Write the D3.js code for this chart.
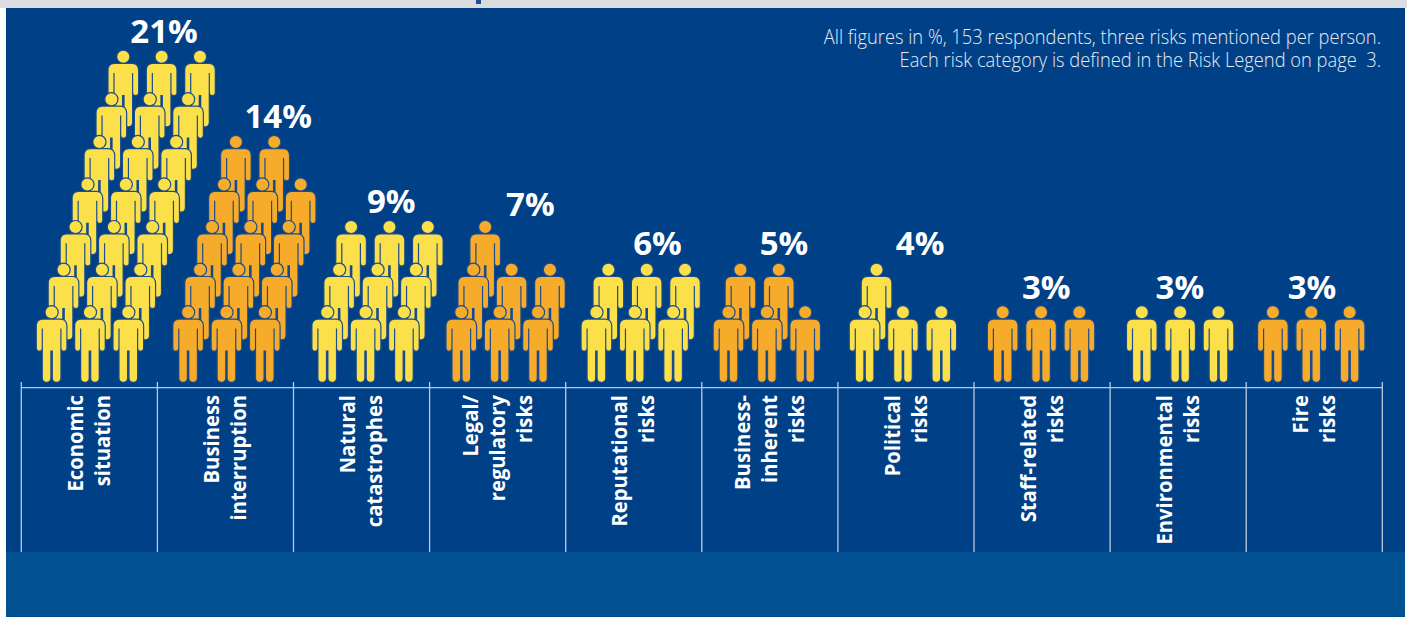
<!DOCTYPE html>
<html><head><meta charset="utf-8">
<script src="https://cdnjs.cloudflare.com/ajax/libs/d3/7.8.5/d3.min.js"></script>
<style>html,body{margin:0;padding:0;background:#fff;overflow:hidden}svg{display:block}
text{font-family:"Open Sans",sans-serif;white-space:pre}</style></head><body><svg id="c" width="1407" height="617"></svg>
<script>
// --- data ---
const categories = [
  ["Economic","situation"],["Business","interruption"],["Natural","catastrophes"],
  ["Legal/","regulatory","risks"],["Reputational","risks"],["Business-","inherent","risks"],
  ["Political","risks"],["Staff-related","risks"],["Environmental","risks"],["Fire","risks"]];
const values = [21,14,9,7,6,5,4,3,3,3];
const noteLines = ["All figures in %, 153 respondents, three risks mentioned per person.",
                   "Each risk category is defined in the Risk Legend on page  3."];
// --- layout ---
const W=1407,H=617;
const firstInset=[30.6,31,34,32,31,27,27,29,32,27];
const labelDx=[75,53,30,33,24,14.5,14.5,4.5,2,-2];
const labelDy=[0,0,0,3,-1,-1,-1,0,0,0];
const perRow=3;
const colors=["#FBE04A","#F7AB2B"];
const svg=d3.select("#c");
svg.append("rect").attr("width",W).attr("height",H).attr("fill","#fff");
svg.append("rect").attr("x",0).attr("width",W).attr("height",8).attr("fill","#DCDDE0");
svg.append("rect").attr("x",6).attr("y",8).attr("width",1399).attr("height",544).attr("fill","#004086");
svg.append("rect").attr("x",6).attr("y",552).attr("width",1399).attr("height",65).attr("fill","#005092");
svg.append("rect").attr("x",476).attr("y",0).attr("width",5).attr("height",4).attr("fill","#1F4F93");
svg.append("rect").attr("width",6).attr("height",H).attr("fill","#fff");
svg.append("rect").attr("width",6).attr("height",8).attr("fill","#DCDDE0");

const x=d3.scaleBand().domain(d3.range(categories.length)).range([21,1382]).paddingInner(0).paddingOuter(0);
const colX=d3.scaleLinear().domain([0,1]).range([0,38.35]);
const rowX=d3.scaleLinear().domain([0,1]).range([0,11.95]);
const rowY=d3.scaleLinear().domain([0,1]).range([381.5,338.9]);

const person=(()=>{ const p=d3.path();
  p.moveTo(-9,-61.8); p.lineTo(9,-61.8);
  p.bezierCurveTo(12.8,-61.8,14.7,-59,14.7,-55.5);
  p.lineTo(14.7,-33.2); p.arc(12.3,-33.2,2.4,0,Math.PI,false);
  p.lineTo(9.9,-53); p.lineTo(8.7,-53); p.lineTo(8.7,-3.4);
  p.arc(5,-3.4,3.7,0,Math.PI,false);
  p.lineTo(1.3,-31); p.lineTo(-1.3,-31); p.lineTo(-1.3,-3.4);
  p.arc(-5,-3.4,3.7,0,Math.PI,false);
  p.lineTo(-8.7,-53); p.lineTo(-9.9,-53); p.lineTo(-9.9,-33.2);
  p.arc(-12.3,-33.2,2.4,0,Math.PI,false);
  p.lineTo(-14.7,-55.5);
  p.bezierCurveTo(-14.7,-59,-12.8,-61.8,-9,-61.8); p.closePath();
  p.moveTo(6,-69.2); p.arc(0,-69.2,6,0,2*Math.PI);
  return p.toString(); })();

const figures=[];
values.forEach((v,i)=>{ for(let k=0;k<v;k++){ figures.push({cat:i,row:Math.floor(k/perRow),col:k%perRow}); } });
figures.sort((a,b)=>b.row-a.row||a.cat-b.cat);

svg.append("g").selectAll("path").data(figures).join("path")
  .attr("d",person)
  .attr("transform",d=>`translate(${x(d.cat)+firstInset[d.cat]+colX(d.col)+rowX(d.row)},${rowY(d.row)})`)
  .attr("fill",d=>colors[d.cat%2])
  .attr("stroke","#1A4C8E").attr("stroke-width",2.4).attr("stroke-linejoin","round")
  .style("paint-order","stroke");

// value labels
svg.append("g").selectAll("text").data(values).join("text")
  .attr("x",(d,i)=>x(i)+x.bandwidth()/2+labelDx[i])
  .attr("y",(d,i)=>rowY(Math.ceil(d/perRow)-1)-75.5-7.5+labelDy[i])
  .attr("text-anchor","middle").attr("font-size",33).attr("font-weight",700)
  .attr("fill","#fff").text(d=>d+"%");

// axis
const axisCol="#BCCADF";
const g=svg.append("g").attr("stroke",axisCol).attr("stroke-width",1.3);
g.append("line").attr("x1",21).attr("x2",1383).attr("y1",387.6).attr("y2",387.6);
const edges=d3.range(categories.length).map(i=>x(i)).concat([x(categories.length-1)+x.bandwidth()]);
g.selectAll("line.t").data(edges).join("line").attr("class","t")
  .attr("x1",d=>d+.3).attr("x2",d=>d+.3).attr("y1",382).attr("y2",552);

// category labels
const lineGap=27, labelTop=395;
categories.forEach((lines,i)=>{
  const first=x(i)+x.bandwidth()/2-(lines.length-1)*lineGap/2+7.5;
  lines.forEach((t,j)=>{
    svg.append("text").attr("transform",`translate(${first+j*lineGap},${labelTop}) rotate(-90) scale(.92,1)`)
      .attr("text-anchor","end").attr("font-size",22).attr("font-weight",700).attr("fill","#fff").text(t);
  });
});

// note
noteLines.forEach((t,i)=>{
  svg.append("text").attr("transform",`translate(1381,${44+i*23}) scale(.915,1)`)
    .attr("text-anchor","end").attr("font-size",20).attr("font-weight",300).attr("fill","#E6ECF4").text(t);
});
</script></body></html>
